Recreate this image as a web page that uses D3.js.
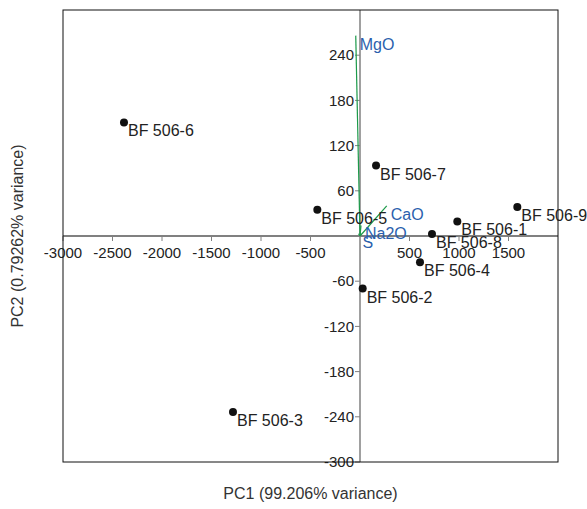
<!DOCTYPE html>
<html>
<head>
<meta charset="utf-8">
<script src="https://cdn.jsdelivr.net/npm/d3@7"></script>
<style>
  body { margin: 0; background: #fff; }
  svg { display: block; font-family: "Liberation Sans", Arial, sans-serif; }
</style>
</head>
<body>
<svg id="chart" width="587" height="509"></svg>
<script>
// sample scores (PC1, PC2)
var sampleNames = ["BF 506-1", "BF 506-2", "BF 506-3", "BF 506-4", "BF 506-5",
                   "BF 506-6", "BF 506-7", "BF 506-8", "BF 506-9"];
var pc1Scores = [983, 27, -1283, 606, -431, -2384, 162, 727, 1589];
var pc2Scores = [19.4, -69.7, -233.7, -35, 35, 150.7, 93.5, 2.7, 38.6];

// variable loadings (scaled to score units)
var loadingNames = ["MgO", "CaO", "Na2O", "S"];
var loadingPC1 = [-43, 270, 10, -15];
var loadingPC2 = [266, 40, 14, 3];

var xTicks = [-3000, -2500, -2000, -1500, -1000, -500, 500, 1000, 1500];
var yTicks = [-300, -240, -180, -120, -60, 60, 120, 180, 240];

var xTitle = "PC1 (99.206% variance)";
var yTitle = "PC2 (0.79262% variance)";

(function() {
    var svg = d3.select("#chart");
    var pLeft = 63, pRight = 558, pTop = 10, pBottom = 462;

    var x = d3.scaleLinear().domain([-3000, 2000]).range([pLeft, pRight]);
    var y = d3.scaleLinear().domain([-300, 300]).range([pBottom, pTop]);

    // zero axes
    svg.append("line")
        .attr("x1", pLeft).attr("x2", pRight)
        .attr("y1", y(0)).attr("y2", y(0))
        .attr("stroke", "#808080").attr("stroke-width", 2);
    svg.append("line")
        .attr("x1", x(0)).attr("x2", x(0))
        .attr("y1", pTop).attr("y2", pBottom)
        .attr("stroke", "#808080").attr("stroke-width", 1.5);

    // x ticks hanging from the zero line
    var xg = svg.append("g").attr("transform", "translate(0," + y(0) + ")");
    xTicks.forEach(function(t) {
        xg.append("line").attr("x1", x(t)).attr("x2", x(t))
            .attr("y1", 0).attr("y2", 5).attr("stroke", "#808080");
        xg.append("text").attr("x", x(t)).attr("y", 22)
            .attr("text-anchor", "middle").attr("font-size", 15).attr("fill", "#222")
            .text(t);
    });

    // y ticks to the left of the zero line
    var yg = svg.append("g").attr("transform", "translate(" + x(0) + ",0)");
    yTicks.forEach(function(t) {
        yg.append("line").attr("x1", -5).attr("x2", 0)
            .attr("y1", y(t)).attr("y2", y(t)).attr("stroke", "#808080");
        yg.append("text").attr("x", -6).attr("y", y(t)).attr("dy", "0.35em")
            .attr("text-anchor", "end").attr("font-size", 15).attr("fill", "#222")
            .text(t);
    });

    // frame
    svg.append("rect")
        .attr("x", pLeft).attr("y", pTop)
        .attr("width", pRight - pLeft).attr("height", pBottom - pTop)
        .attr("fill", "none").attr("stroke", "#111").attr("stroke-width", 1);

    // loading vectors
    var loadings = loadingNames.map(function(n, i) {
        return { name: n, px: loadingPC1[i], py: loadingPC2[i] };
    });
    svg.selectAll(".vec").data(loadings).enter().append("line")
        .attr("class", "vec")
        .attr("x1", x(0)).attr("y1", y(0))
        .attr("x2", function(d) { return x(d.px); })
        .attr("y2", function(d) { return y(d.py); })
        .attr("stroke", "#1c9a4a").attr("stroke-width", 1.2);
    svg.selectAll(".vecLabel").data(loadings).enter().append("text")
        .attr("class", "vecLabel")
        .attr("x", function(d) { return x(d.px) + 4; })
        .attr("y", function(d) { return y(d.py) + 14; })
        .attr("font-size", 16).attr("fill", "#2b5fad")
        .text(function(d) { return d.name; });

    // samples
    var samples = sampleNames.map(function(n, i) {
        return { name: n, px: pc1Scores[i], py: pc2Scores[i] };
    });
    svg.selectAll(".pt").data(samples).enter().append("circle")
        .attr("class", "pt")
        .attr("cx", function(d) { return x(d.px); })
        .attr("cy", function(d) { return y(d.py); })
        .attr("r", 4).attr("fill", "#111");
    svg.selectAll(".ptLabel").data(samples).enter().append("text")
        .attr("class", "ptLabel")
        .attr("x", function(d) { return x(d.px) + 4; })
        .attr("y", function(d) { return y(d.py) + 14; })
        .attr("font-size", 16).attr("fill", "#222")
        .text(function(d) { return d.name; });

    // axis titles
    svg.append("text")
        .attr("x", (pLeft + pRight) / 2).attr("y", 499)
        .attr("text-anchor", "middle").attr("font-size", 16).attr("fill", "#333")
        .text(xTitle);
    svg.append("text")
        .attr("transform", "translate(23," + ((pTop + pBottom) / 2) + ") rotate(-90)")
        .attr("text-anchor", "middle").attr("font-size", 16).attr("fill", "#333")
        .text(yTitle);
})();
</script>
</body>
</html>
